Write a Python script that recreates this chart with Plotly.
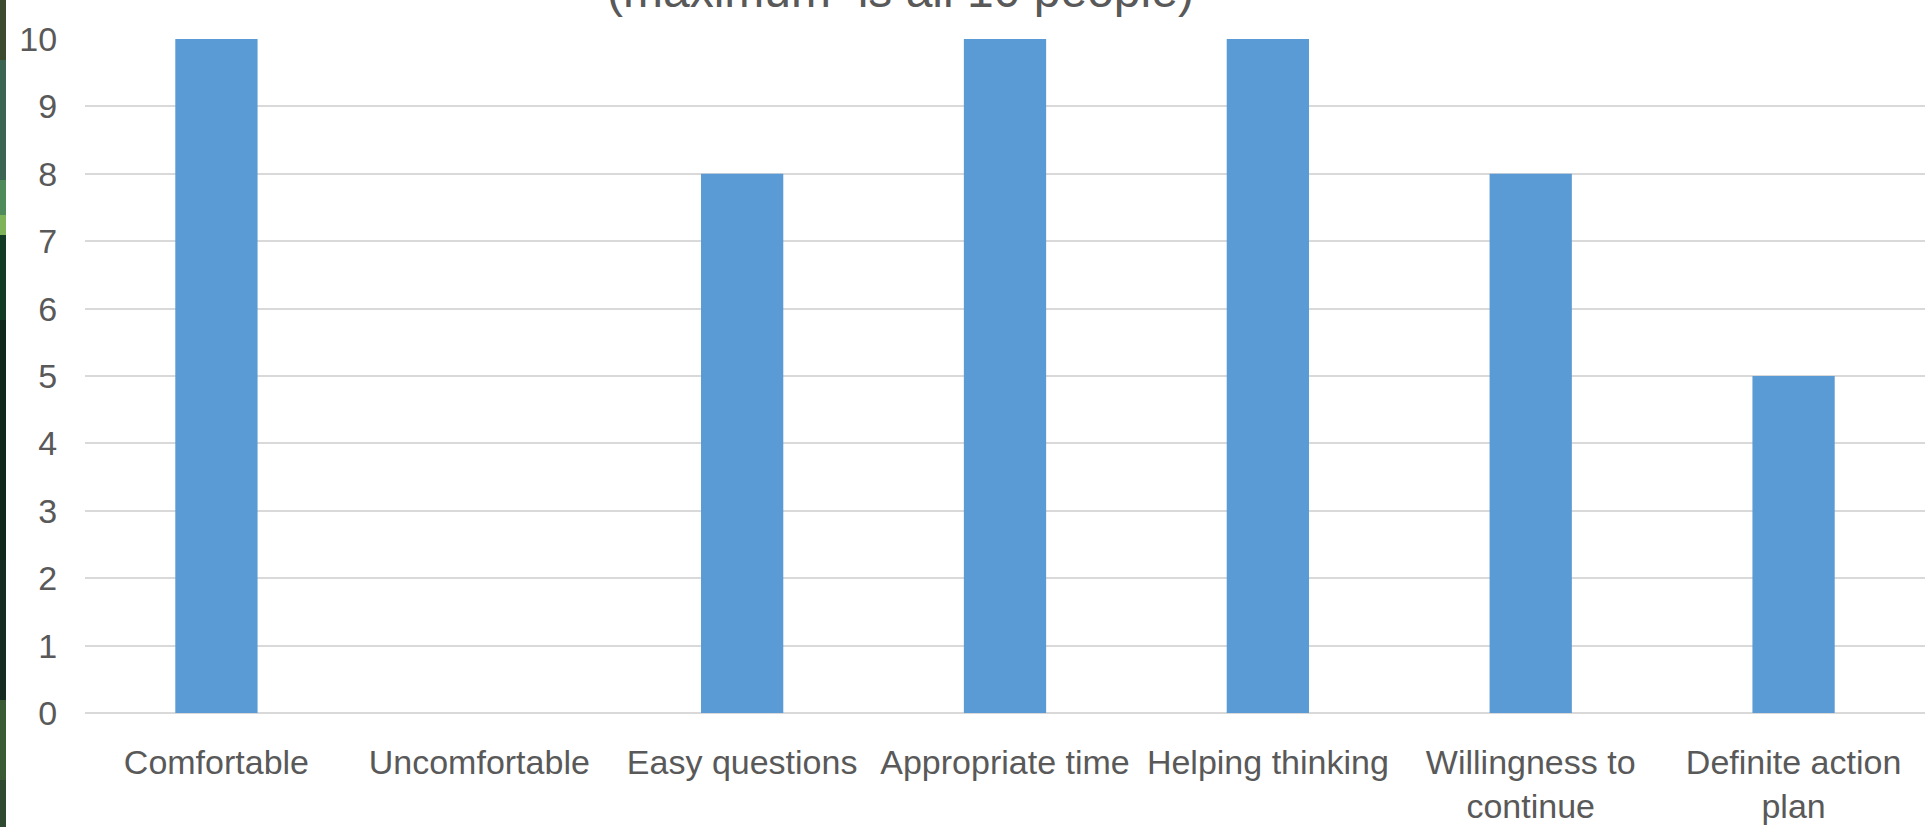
import plotly.graph_objects as go

categories = ["Comfortable", "Uncomfortable", "Easy questions", "Appropriate time",
              "Helping thinking", "Willingness to<br>continue", "Definite action<br>plan"]
values = [10, 0, 8, 10, 10, 8, 5]
y_ticks = list(range(0, 11))
title_text = "(maximum  is all 10 people)"

W, H = 1925, 827
L, R, T, B = 85, 0, 39, 114
pw, ph = W - L - R, H - T - B

def px_x(p):
    return (p - L) / pw

def px_y(p):
    return (H - B - p) / ph

FONT = "Liberation Sans, Arial, sans-serif"
GREY = "#595959"

fig = go.Figure(go.Bar(x=categories, y=values, marker_color="#5b9bd5",
                       marker_line_width=0, width=0.313))

# decorative green photo strip at the left edge
strip = [(0, 60, "#3c4a2e"), (60, 180, "#3b6552"), (180, 215, "#4f8a5a"),
         (215, 235, "#7fb35a"), (235, 320, "#123a24"), (320, 560, "#10271c"),
         (560, 700, "#152a20"), (700, 780, "#3a5a36"), (780, 827, "#2f4a30")]
shapes = []
for y0, y1, c in strip:
    shapes.append(dict(type="rect", xref="paper", yref="paper",
                       x0=px_x(0), x1=px_x(6), y0=px_y(y1), y1=px_y(y0),
                       fillcolor=c, line_width=0, layer="above"))

fig.update_layout(
    width=W, height=H,
    margin=dict(l=L, r=R, t=T, b=B, pad=0),
    paper_bgcolor="white", plot_bgcolor="white",
    showlegend=False,
    shapes=shapes,
    font=dict(family=FONT, color=GREY, size=34),
    xaxis=dict(range=[-0.5, 6.5], tickangle=0, showgrid=False, showline=False,
               automargin=False,
               ticks="outside", ticklen=19, tickcolor="rgba(0,0,0,0)",
               tickfont=dict(size=34, color=GREY)),
    yaxis=dict(range=[0, 10], tickvals=y_ticks, showgrid=True, gridcolor="#d9d9d9",
               automargin=False,
               gridwidth=1.5, zeroline=True, zerolinecolor="#d9d9d9", zerolinewidth=2,
               ticks="outside", ticklen=20, tickcolor="rgba(0,0,0,0)",
               tickfont=dict(size=34, color=GREY)),
    annotations=[dict(text=title_text, xref="paper", yref="paper",
                      x=px_x(900), y=px_y(-10), xanchor="center", yanchor="middle",
                      showarrow=False, font=dict(size=48, color=GREY, family=FONT))],
)

fig.write_html("out.html")
